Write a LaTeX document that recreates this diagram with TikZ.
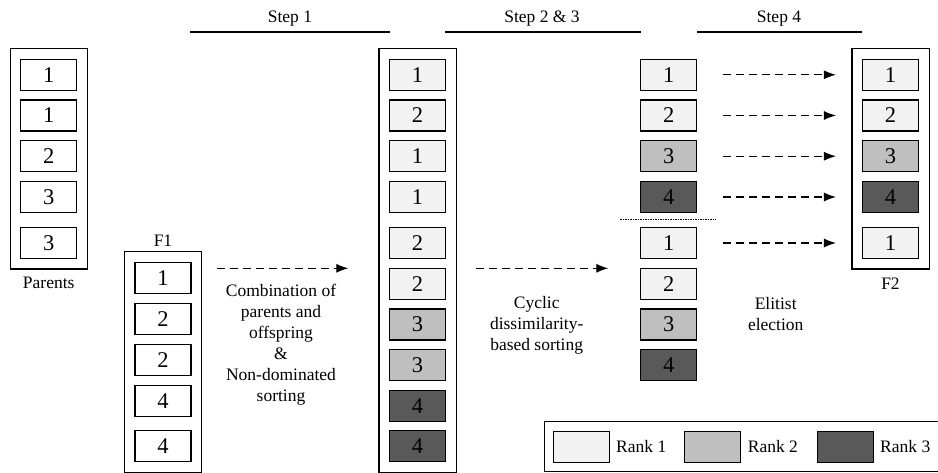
\documentclass[tikz,border=0pt]{standalone}
\usepackage{fontspec}
\setmainfont{Liberation Serif}
\usetikzlibrary{arrows.meta,fit}
\definecolor{rankA}{HTML}{F2F2F2}
\definecolor{rankB}{HTML}{BFBFBF}
\definecolor{rankC}{HTML}{595959}
\begin{document}
\begin{tikzpicture}[x=1pt,y=-1pt,
  cell/.style={draw, line width=1.1pt, minimum width=56pt, minimum height=31pt, inner sep=0pt, font=\fontsize{22.5}{22.5}\selectfont},
  ra/.style={cell, fill=rankA},
  rb/.style={cell, fill=rankB},
  rc/.style={cell, fill=rankC},
  outerbox/.style={draw, line width=1.1pt, inner sep=10pt},
  lab/.style={font=\fontsize{17.5}{21}\selectfont, inner sep=0pt},
  mlab/.style={lab, align=center, anchor=north},
  arr/.style={line width=1.1pt, dash pattern=on 8pt off 5pt, -{Latex[length=12pt,width=9pt]}},
  stepline/.style={line width=1.1pt},
]
\useasboundingbox (0,0) rectangle (938,473);
\clip (0,0) rectangle (938,473);

% step headers
\node[lab, anchor=base] (h1) at (290,22.7) {Step 1};
\node[lab, anchor=base] (h2) at (542,22.7) {Step 2 \& 3};
\node[lab, anchor=base] (h3) at (779,22.7) {Step 4};
\coordinate (l1a) at (190,32); \coordinate (l1b) at (390,32);
\coordinate (l2a) at (445,32); \coordinate (l2b) at (641,32);
\coordinate (l3a) at (697,32); \coordinate (l3b) at (862,32);
\draw[stepline] (l1a) -- (l1b);
\draw[stepline] (l2a) -- (l2b);
\draw[stepline] (l3a) -- (l3b);

% Parents
\node[cell] (p1) at (48.7,74.8) {1};
\node[cell] (p2) at (48.7,115.5) {1};
\node[cell] (p3) at (48.7,156.2) {2};
\node[cell] (p4) at (48.7,197) {3};
\node[cell] (p5) at (48.7,243) {3};
\node[outerbox, fit=(p1)(p5)] (pbox) {};
\node[lab, anchor=base] (plab) at (48.7,288.3) {Parents};

% F1
\node[cell] (f1) at (163,278) {1};
\node[cell] (f2) at (163,318.8) {2};
\node[cell] (f3) at (163,359.8) {2};
\node[cell] (f4) at (163,400.8) {4};
\node[cell] (f5) at (163,446.3) {4};
\node[outerbox, fit=(f1)(f5)] (fbox) {};
\node[lab, anchor=base] (flab) at (163,246.7) {F1};

% Combined
\node[ra] (c1) at (417.5,74.8) {1};
\node[ra] (c2) at (417.5,115.5) {2};
\node[ra] (c3) at (417.5,156.2) {1};
\node[ra] (c4) at (417.5,197) {1};
\node[ra] (c5) at (417.5,243) {2};
\node[ra] (c6) at (417.5,283.7) {2};
\node[rb] (c7) at (417.5,324.5) {3};
\node[rb] (c8) at (417.5,365.2) {3};
\node[rc] (c9) at (417.5,406.2) {4};
\node[rc] (c10) at (417.5,446.3) {4};
\node[outerbox, fit=(c1)(c10)] (cbox) {};

% Sorted
\node[ra] (s1) at (668.7,74.8) {1};
\node[ra] (s2) at (668.7,115.5) {2};
\node[rb] (s3) at (668.7,156.2) {3};
\node[rc] (s4) at (668.7,197) {4};
\node[ra] (s5) at (668.7,243) {1};
\node[ra] (s6) at (668.7,283.7) {2};
\node[rb] (s7) at (668.7,324.5) {3};
\node[rc] (s8) at (668.7,365.2) {4};
\coordinate (da) at (620,219.3); \coordinate (db) at (716,219.3);
\draw[line width=0.8pt, dash pattern=on 1.5pt off 1pt] (da) -- (db);

% F2
\node[ra] (g1) at (890.5,74.8) {1};
\node[ra] (g2) at (890.5,115.5) {2};
\node[rb] (g3) at (890.5,156.2) {3};
\node[rc] (g4) at (890.5,197) {4};
\node[ra] (g5) at (890.5,243) {1};
\node[outerbox, fit=(g1)(g5)] (gbox) {};
\node[lab, anchor=base] (glab) at (890.5,290) {F2};

% arrows
\coordinate (a1s) at (216.7,268.3); \coordinate (a1e) at (348.3,268.3);
\draw[arr] (a1s) -- (a1e);
\coordinate (a2s) at (476,268.3); \coordinate (a2e) at (608.3,268.3);
\draw[arr] (a2s) -- (a2e);
\foreach \i in {1,...,5}{
  \draw[arr, shorten <=26pt, shorten >=26pt] (s\i.east) -- (g\i.west);
}

% descriptions
\node[mlab] (t1) at (281,284.4) {Combination of\\parents and\\offspring\\\&\\Non-dominated\\sorting};
\node[mlab] (t2) at (536.7,296.5) {Cyclic\\dissimilarity-\\based sorting};
\node[mlab] (t3) at (775.7,297.5) {Elitist\\election};

% legend
\node[draw, line width=1.1pt, anchor=north west, minimum width=420pt, minimum height=50.3pt, inner sep=0pt] (legend) at (544.3,420.7) {};
\node[ra, anchor=north west] (k1) at (553.3,431) {};
\node[rb, anchor=north west] (k2) at (684.3,431) {};
\node[rc, anchor=north west] (k3) at (816.7,431) {};
\node[lab, anchor=base west] (k1t) at (616,452.3) {Rank 1};
\node[lab, anchor=base west] (k2t) at (747.7,452.3) {Rank 2};
\node[lab, anchor=base west] (k3t) at (880,452.3) {Rank 3};
\end{tikzpicture}
\end{document}
